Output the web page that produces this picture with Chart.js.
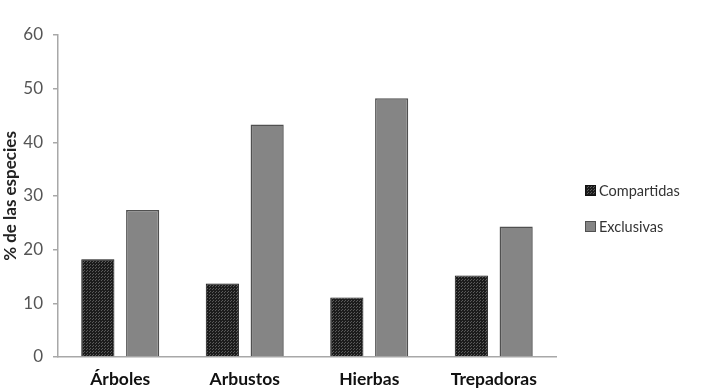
<!DOCTYPE html>
<html>
<head>
<meta charset="utf-8">
<script src="https://cdn.jsdelivr.net/npm/chart.js@4.4.0/dist/chart.umd.min.js"></script>
<style>
  body { margin: 0; background: #fff; }
  #wrap { width: 705px; height: 390px; position: relative; }
</style>
</head>
<body>
<div id="wrap"><canvas id="chartSpecies"></canvas></div>
<script>
var categories = ['Árboles', 'Arbustos', 'Hierbas', 'Trepadoras'];
var compartidas = [18.2, 13.7, 11.1, 15.2];
var exclusivas = [27.4, 43.3, 48.2, 24.3];
var yTicks = [0, 10, 20, 30, 40, 50, 60];

// dotted dark fill like the original
function darkPattern() {
    var c = document.createElement('canvas');
    c.width = 3; c.height = 3;
    var g = c.getContext('2d');
    g.fillStyle = '#1c1c1c';
    g.fillRect(0, 0, 3, 3);
    g.fillStyle = '#5a5a5a';
    g.fillRect(0, 0, 1, 1);
    g.fillRect(2, 1, 1, 1);
    return g.createPattern(c, 'repeat');
}

var fontFam = 'Lato, "Open Sans", sans-serif';

// legend drawn at the right side, next to the plot
var sideLegend = {
    id: 'sideLegend',
    afterDraw: function (chart) {
        var ctx = chart.ctx;
        var area = chart.chartArea;
        var x = area.right + 29;
        var y0 = area.top + 155;
        ctx.save();
        ctx.font = '14.5px ' + fontFam;
        ctx.textBaseline = 'middle';
        chart.data.datasets.forEach(function (ds, i) {
            var y = y0 + i * 36;
            ctx.fillStyle = ds.backgroundColor;
            ctx.fillRect(x, y - 5, 11, 11);
            ctx.strokeStyle = ds.borderColor;
            ctx.lineWidth = 1;
            ctx.strokeRect(x + 0.5, y - 4.5, 10, 10);
            ctx.fillStyle = '#333';
            ctx.fillText(ds.label, x + 14, y + 1);
        });
        ctx.restore();
    }
};

const ctx = document.getElementById('chartSpecies').getContext('2d');
const myChart = new Chart(ctx, {
    type: 'bar',
    data: {
        labels: categories,
        datasets: [{
            label: 'Compartidas',
            data: compartidas,
            backgroundColor: darkPattern(),
            borderColor: '#111',
            borderWidth: 1
        },
        {
            label: 'Exclusivas',
            data: exclusivas,
            backgroundColor: '#858585',
            borderColor: '#505050',
            borderWidth: 1.5
        }]
    },
    options: {
        responsive: true,
        maintainAspectRatio: false,
        animation: false,
        categoryPercentage: 0.72,
        barPercentage: 0.74,
        layout: { padding: { top: 35, right: 149, left: 0, bottom: 0 } },
        plugins: {
            legend: { display: false },
            tooltip: { enabled: false }
        },
        scales: {
            x: {
                grid: { display: false },
                border: { color: '#a8a8a8', width: 1.5 },
                afterFit: function (axis) { axis.height = 33; },
                ticks: {
                    color: '#111',
                    padding: 4,
                    font: { family: fontFam, size: 17.5, weight: 'bold' }
                }
            },
            y: {
                min: 0,
                max: 60,
                afterBuildTicks: function (axis) {
                    axis.ticks = yTicks.map(function (v) { return { value: v }; });
                },
                afterFit: function (axis) { axis.width = 58; },
                grid: { drawOnChartArea: false, drawTicks: true, tickLength: 5, color: '#a8a8a8', lineWidth: 1.5 },
                border: { color: '#a8a8a8', width: 1.5 },
                ticks: {
                    color: '#555',
                    padding: 10,
                    font: { family: fontFam, size: 17 }
                },
                title: {
                    display: true,
                    text: '% de las especies',
                    color: '#222',
                    padding: { top: 0, bottom: 2 },
                    font: { family: fontFam, size: 17, weight: 'bold' }
                }
            }
        }
    },
    plugins: [sideLegend]
});
</script>
</body>
</html>
